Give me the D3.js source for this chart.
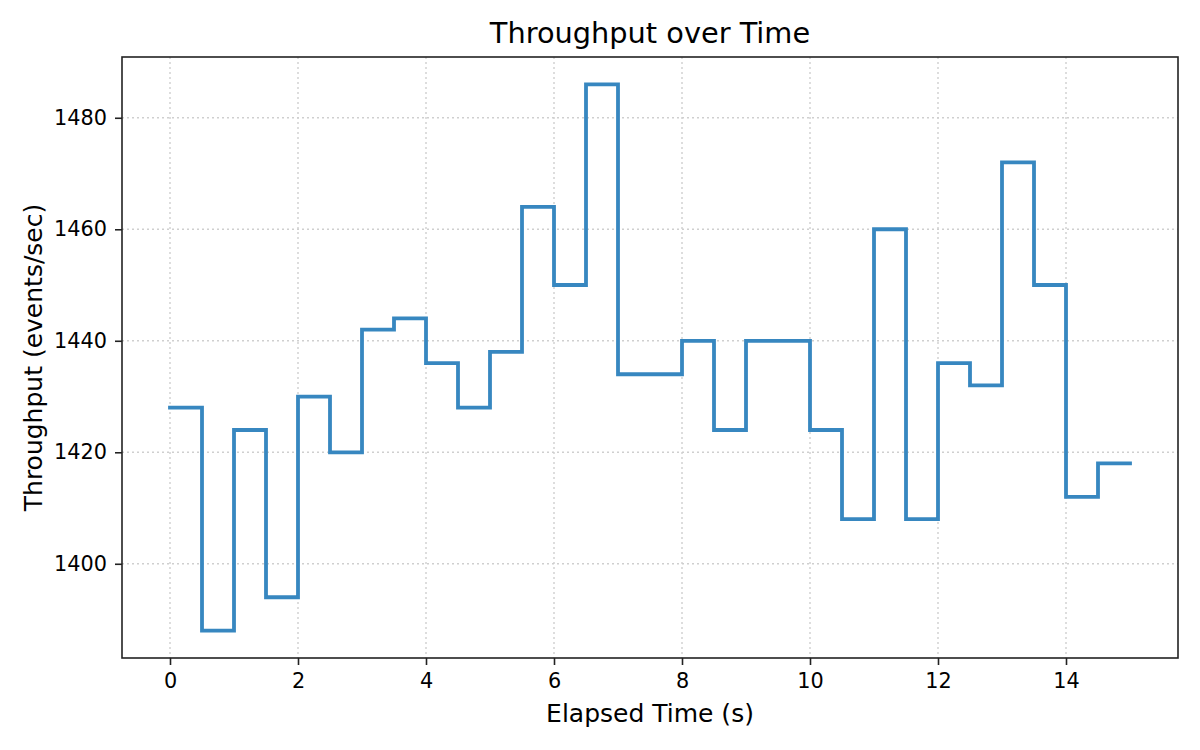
<!DOCTYPE html>
<html lang="en">
<head>
    <meta charset="UTF-8">
    <title>Throughput over Time</title>
    <script src="https://cdn.jsdelivr.net/npm/d3@7/dist/d3.min.js"></script>
    <style>
        * {
            padding: 0;
            margin: 0;
        }
        body {
            background-color: #ffffff;
        }
        #grafico text {
            font-family: "DejaVu Sans", sans-serif;
            fill: #000000;
        }
    </style>
</head>
<body>
<div id="grafico"></div>

<script>
    // datos
    var tiempos = [0, 0.5, 1, 1.5, 2, 2.5, 3, 3.5, 4, 4.5, 5, 5.5, 6, 6.5, 7, 7.5,
                   8, 8.5, 9, 9.5, 10, 10.5, 11, 11.5, 12, 12.5, 13, 13.5, 14, 14.5, 15];
    var throughput = [1428, 1388, 1424, 1394, 1430, 1420, 1442, 1444, 1436, 1428, 1438,
                      1464, 1450, 1486, 1434, 1434, 1440, 1424, 1440, 1440, 1424, 1408,
                      1460, 1408, 1436, 1432, 1472, 1450, 1412, 1418, 1418];
    var ticksX = [0, 2, 4, 6, 8, 10, 12, 14];
    var ticksY = [1400, 1420, 1440, 1460, 1480];

    var w = 1200;
    var h = 750;
    var margen = {top: 57, right: 22, bottom: 92, left: 122};
    var anchoPlot = w - margen.left - margen.right;
    var altoPlot = h - margen.top - margen.bottom;

    var dataset = tiempos.map(function(t, i) {
        return {t: t, v: throughput[i]};
    });

    // limites con 5% de margen, como matplotlib
    var xMin = d3.min(tiempos), xMax = d3.max(tiempos);
    var yMin = d3.min(throughput), yMax = d3.max(throughput);
    var xPad = (xMax - xMin) * 0.05;
    var yPad = (yMax - yMin) * 0.05;

    var xScale = d3.scaleLinear()
        .domain([xMin - xPad, xMax + xPad])
        .range([0, anchoPlot]);
    var yScale = d3.scaleLinear()
        .domain([yMin - yPad, yMax + yPad])
        .range([altoPlot, 0]);

    var svg = d3.select("#grafico")
        .append("svg")
        .attr("width", w)
        .attr("height", h);

    svg.append("rect")
        .attr("width", w)
        .attr("height", h)
        .attr("fill", "#ffffff");

    var g = svg.append("g")
        .attr("transform", "translate(" + margen.left + "," + margen.top + ")");

    // rejilla punteada
    g.append("g")
        .selectAll("line")
        .data(ticksX)
        .enter()
        .append("line")
        .attr("x1", function(d) { return xScale(d); })
        .attr("x2", function(d) { return xScale(d); })
        .attr("y1", 0)
        .attr("y2", altoPlot)
        .attr("stroke", "#cfcfcf")
        .attr("stroke-width", 1.4)
        .attr("stroke-dasharray", "2,3");

    g.append("g")
        .selectAll("line")
        .data(ticksY)
        .enter()
        .append("line")
        .attr("x1", 0)
        .attr("x2", anchoPlot)
        .attr("y1", function(d) { return yScale(d); })
        .attr("y2", function(d) { return yScale(d); })
        .attr("stroke", "#cfcfcf")
        .attr("stroke-width", 1.4)
        .attr("stroke-dasharray", "2,3");

    // linea escalonada
    var linea = d3.line()
        .x(function(d) { return xScale(d.t); })
        .y(function(d) { return yScale(d.v); })
        .curve(d3.curveStepAfter);

    g.append("path")
        .datum(dataset)
        .attr("d", linea)
        .attr("fill", "none")
        .attr("stroke", "#3787c0")
        .attr("stroke-width", 3.8)
        .attr("stroke-linejoin", "miter")
        .attr("stroke-linecap", "square");

    // ejes
    var ejeX = d3.axisBottom(xScale)
        .tickValues(ticksX)
        .tickFormat(d3.format("d"))
        .tickSize(7)
        .tickPadding(8);
    var ejeY = d3.axisLeft(yScale)
        .tickValues(ticksY)
        .tickFormat(d3.format("d"))
        .tickSize(7)
        .tickPadding(8);

    var gx = g.append("g")
        .attr("transform", "translate(0," + altoPlot + ")")
        .call(ejeX);
    var gy = g.append("g")
        .call(ejeY);

    [gx, gy].forEach(function(eje) {
        eje.select(".domain").remove();
        eje.selectAll(".tick line")
            .attr("stroke", "#222222")
            .attr("stroke-width", 1.6);
        eje.selectAll(".tick text")
            .attr("font-size", "20.8px")
            .attr("font-family", "DejaVu Sans, sans-serif");
    });

    // marco
    g.append("rect")
        .attr("x", 0)
        .attr("y", 0)
        .attr("width", anchoPlot)
        .attr("height", altoPlot)
        .attr("fill", "none")
        .attr("stroke", "#222222")
        .attr("stroke-width", 1.6);

    // textos
    svg.append("text")
        .text("Throughput over Time")
        .attr("x", margen.left + anchoPlot / 2)
        .attr("y", 43)
        .attr("text-anchor", "middle")
        .attr("font-size", "28.8px");

    svg.append("text")
        .text("Elapsed Time (s)")
        .attr("x", margen.left + anchoPlot / 2)
        .attr("y", 722)
        .attr("text-anchor", "middle")
        .attr("font-size", "25px");

    svg.append("text")
        .text("Throughput (events/sec)")
        .attr("transform", "translate(42," + (margen.top + altoPlot / 2) + ") rotate(-90)")
        .attr("text-anchor", "middle")
        .attr("font-size", "25px");
</script>
</body>
</html>
